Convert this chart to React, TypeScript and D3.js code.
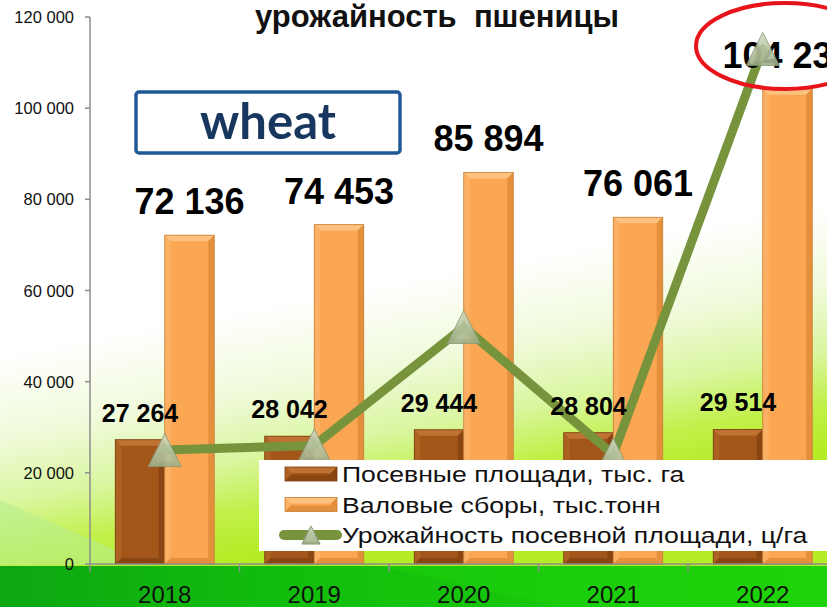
import React from "react"
import * as d3 from "d3"

const years = ["2018", "2019", "2020", "2021", "2022"]
const sownArea = [27264, 28042, 29444, 28804, 29514]
const grossHarvest = [72136, 74453, 85894, 76061, 104234]
const yieldPerHa = [26.5, 26.6, 29.2, 26.4, 35.3]
const yTicks = [0, 20000, 40000, 60000, 80000, 100000, 120000]

const title = "урожайность  пшеницы"
const legendLabels = [
  "Посевные площади, тыс. га",
  "Валовые сборы, тыс.тонн",
  "Урожайность посевной площади, ц/га"
]

const width = 827
const height = 607
const plot = { left: 90, right: 837.5, top: 17, bottom: 564 }

const ru = d3.formatLocale({
  decimal: ",",
  thousands: " ",
  grouping: [3],
  currency: ["", ""]
})
const fmt = ru.format(",d")

const x = d3.scaleBand().domain(years).range([plot.left, plot.right]).padding(0)
const y = d3.scaleLinear().domain([0, 120000]).range([plot.bottom, plot.top])
// hidden secondary axis for the yield line
const y2 = d3.scaleLinear().domain([24, 36]).range([plot.bottom, plot.top])

const barW = x.bandwidth() * 0.331

const BevelBar = ({ x0, y0, w, h, c }: { x0: number; y0: number; w: number; h: number; c: any }) => {
  const b = Math.min(6, h / 2)
  return (
    <g>
      <rect x={x0} y={y0} width={w} height={h} fill={c.main} />
      <polygon points={`${x0},${y0} ${x0 + w},${y0} ${x0 + w - b},${y0 + b} ${x0 + b},${y0 + b}`} fill={c.top} />
      <polygon points={`${x0},${y0} ${x0 + b},${y0 + b} ${x0 + b},${y0 + h - b} ${x0},${y0 + h}`} fill={c.side} />
      <polygon points={`${x0 + w},${y0} ${x0 + w - b},${y0 + b} ${x0 + w - b},${y0 + h - b} ${x0 + w},${y0 + h}`} fill={c.dark} />
      <polygon points={`${x0},${y0 + h} ${x0 + b},${y0 + h - b} ${x0 + w - b},${y0 + h - b} ${x0 + w},${y0 + h}`} fill={c.dark} />
      <rect x={x0} y={y0} width={w} height={h} fill="none" stroke={c.edge} strokeWidth={0.8} />
    </g>
  )
}

const brown = { main: "#A3561A", top: "#BF7232", side: "#AD6222", dark: "#8A4612", edge: "#7A3E10" }
const orange = { main: "#FBA652", top: "#FDC27F", side: "#FCB064", dark: "#E48F3C", edge: "#C98038" }

const Marker = ({ cx, cy, s = 1 }: { cx: number; cy: number; s?: number }) => {
  const r = 16.5 * s
  return (
    <g>
      <polygon
        points={`${cx},${cy - r} ${cx + r},${cy + r} ${cx - r},${cy + r}`}
        fill="url(#markerGrad)"
        stroke="#8C9C76"
        strokeWidth={1}
      />
      <polygon
        points={`${cx},${cy - r * 0.45} ${cx + r * 0.55},${cy + r * 0.7} ${cx - r * 0.55},${cy + r * 0.7}`}
        fill="#B3C29C"
        opacity={0.7}
      />
    </g>
  )
}

export default function App() {
  const linePts = years.map((d, i) => [x(d)! + x.bandwidth() / 2, y2(yieldPerHa[i])] as [number, number])
  const line = d3.line()

  return (
    <svg
      width={width}
      height={height}
      style={{ position: "absolute", left: 0, top: 0, fontFamily: "'Liberation Sans', Arial, sans-serif" }}
    >
      <defs>
        <linearGradient id="bg" x1="0" y1="0" x2="0.25" y2="1">
          <stop offset="0" stopColor="#FFFFFF" />
          <stop offset="0.55" stopColor="#FFFFFF" />
          <stop offset="0.68" stopColor="#F0FADA" />
          <stop offset="0.78" stopColor="#DAF6A0" />
          <stop offset="0.86" stopColor="#C2F04A" />
          <stop offset="0.93" stopColor="#B4EC26" />
        </linearGradient>
        <linearGradient id="grass" x1="0" y1="0" x2="1" y2="0">
          <stop offset="0" stopColor="#0CA712" />
          <stop offset="0.35" stopColor="#12BE0C" />
          <stop offset="1" stopColor="#1DD20A" />
        </linearGradient>
        <linearGradient id="markerGrad" x1="0" y1="0" x2="0" y2="1">
          <stop offset="0" stopColor="#D4DEC3" />
          <stop offset="1" stopColor="#9DAD87" />
        </linearGradient>
      </defs>

      <rect width={width} height={height} fill="url(#bg)" />
      <polygon points={`0,500 0,565 150,565`} fill="#B8EE90" opacity={0.6} />
      <rect x={0} y={566} width={width} height={height - 566} fill="url(#grass)" />
      <polygon points={`380,566 827,566 827,607 560,607`} fill="#22D80C" opacity={0.35} />

      <text x={437} y={27} textAnchor="middle" fontSize={31} fontWeight="bold" fill="#111" style={{ whiteSpace: "pre" }}>
        {title}
      </text>

      <rect x={136} y={92} width={264} height={61} rx={3} fill="#FFFFFF" stroke="#1F5A96" strokeWidth={3.5} />
      <text x={268} y={139} textAnchor="middle" fontSize={49} fontWeight="bold" fill="#17375E" fontFamily="Lato, 'Open Sans', sans-serif">
        wheat
      </text>

      {/* axes */}
      <line x1={plot.left} x2={plot.left} y1={plot.top} y2={plot.bottom} stroke="#8C8C8C" strokeWidth={1.5} />
      {yTicks.map(t => (
        <g key={t}>
          <line x1={plot.left - 5} x2={plot.left} y1={y(t)} y2={y(t)} stroke="#8C8C8C" strokeWidth={1.5} />
          <text x={74} y={y(t) + 6} textAnchor="end" fontSize={16.5} fill="#111">
            {fmt(t)}
          </text>
        </g>
      ))}

      {years.map((d, i) => {
        const cx = x(d)! + x.bandwidth() / 2
        const hb = y(0) - y(sownArea[i])
        const ho = y(0) - y(grossHarvest[i])
        return (
          <g key={d}>
            <BevelBar x0={cx - barW} y0={y(sownArea[i])} w={barW} h={hb} c={brown} />
            <BevelBar x0={cx} y0={y(grossHarvest[i])} w={barW} h={ho} c={orange} />
          </g>
        )
      })}

      <line x1={plot.left} x2={width} y1={plot.bottom} y2={plot.bottom} stroke="#8C8C8C" strokeWidth={1.5} />
      {years.map(d => (
        <line key={d} x1={x(d)!} x2={x(d)!} y1={plot.bottom} y2={plot.bottom + 8} stroke="#8C8C8C" strokeWidth={1.5} />
      ))}
      {years.map(d => (
        <text key={d} x={x(d)! + x.bandwidth() / 2} y={603} textAnchor="middle" fontSize={24} fill="#111">
          {d}
        </text>
      ))}

      <path d={line(linePts)!} fill="none" stroke="#77933C" strokeWidth={9} strokeLinejoin="round" strokeLinecap="round" />

      {years.map((d, i) => {
        const cx = x(d)! + x.bandwidth() / 2
        return (
          <g key={d} fontWeight="bold" fill="#000" textAnchor="middle">
            <text x={cx + barW / 2} y={y(grossHarvest[i]) - 21} fontSize={36}>
              {fmt(grossHarvest[i])}
            </text>
            <text x={cx - barW / 2} y={y(sownArea[i]) - 18} fontSize={25}>
              {fmt(sownArea[i])}
            </text>
          </g>
        )
      })}

      {linePts.map((p, i) => (
        <g key={i} opacity={0.9}>
          <Marker cx={p[0]} cy={p[1]} />
        </g>
      ))}

      {/* legend */}
      <rect x={259} y={460} width={570} height={91} fill="#FFFFFF" />
      <BevelBar x0={285} y0={467} w={52} h={14} c={brown} />
      <BevelBar x0={285} y0={497.5} w={52} h={14} c={orange} />
      <line x1={284} x2={337} y1={535} y2={535} stroke="#77933C" strokeWidth={10} strokeLinecap="round" />
      <Marker cx={311} cy={535} s={0.55} />
      {legendLabels.map((l, i) => (
        <text key={l} transform={`translate(342, ${482 + i * 30.5}) scale(1.21, 1)`} fontSize={22} fill="#111">
          {l}
        </text>
      ))}

      <ellipse cx={785} cy={46} rx={89} ry={43} fill="none" stroke="#E8141B" strokeWidth={4} />
    </svg>
  )
}
